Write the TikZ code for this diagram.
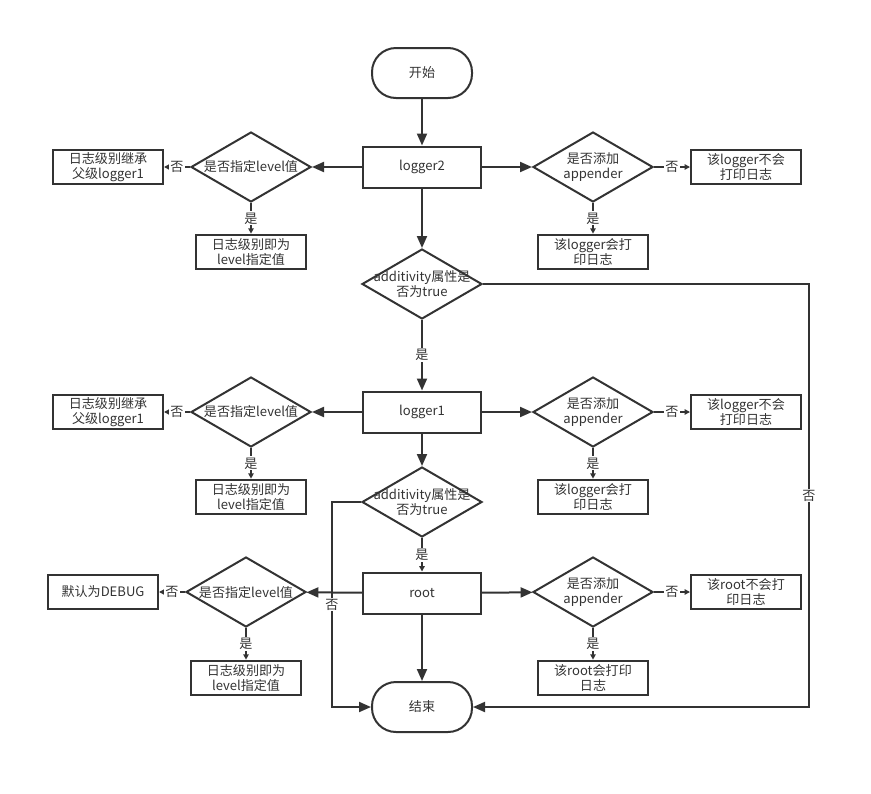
\documentclass[tikz,border=0pt]{standalone}
\usepackage{fontspec}
\setmainfont{Noto Sans CJK SC}
\usetikzlibrary{shapes.geometric,arrows.meta}
\definecolor{ln}{HTML}{333333}

\begin{document}
\begin{tikzpicture}[x=0.75pt,y=-0.75pt,line width=1.5pt,color=ln,
    every node/.style={font=\fontsize{9.8}{11.5}\selectfont},
    box/.style={draw,rectangle,minimum width=88.5pt,minimum height=30.75pt,inner sep=1pt},
    res/.style={draw,rectangle,minimum width=82.5pt,minimum height=26pt,align=center,inner sep=1pt},
    term/.style={draw,rounded corners=18pt,minimum width=75pt,minimum height=37.5pt},
    dia/.style={draw,diamond,minimum width=90pt,minimum height=52.5pt,inner sep=0pt,
        label={[align=center,inner sep=0pt]center:{#1}}},
    arr/.style={-{Triangle[length=9pt,width=7.5pt]}},
    sarr/.style={-{Triangle[length=4pt,width=4pt]}},
    lab/.style={fill=white,inner sep=1pt}]

\useasboundingbox (0,0) rectangle (871,793);

\node[term] (start) at (422,73) {开始};

% logger2
\node[box] (lg2) at (422,167) {logger2};
\node[dia=是否指定level值] (lv2) at (251,167) {};
\node[res] (inh2) at (108,167) {日志级别继承\\父级logger1};
\node[res] (set2) at (251,252) {日志级别即为\\level指定值};
\node[dia={是否添加\\appender}] (ap2) at (593,167) {};
\node[res] (np2) at (746,167) {该logger不会\\打印日志};
\node[res] (pr2) at (593,252) {该logger会打\\印日志};
\node[dia={additivity属性是\\否为true}] (ad2) at (422,284) {};

% logger1
\node[box] (lg1) at (422,412) {logger1};
\node[dia=是否指定level值] (lv1) at (251,412) {};
\node[res] (inh1) at (108,412) {日志级别继承\\父级logger1};
\node[res] (set1) at (251,497) {日志级别即为\\level指定值};
\node[dia={是否添加\\appender}] (ap1) at (593,412) {};
\node[res] (np1) at (746,412) {该logger不会\\打印日志};
\node[res] (pr1) at (593,497) {该logger会打\\印日志};
\node[dia={additivity属性是\\否为true}] (ad1) at (422,502) {};

% root
\node[box] (rt) at (422,593) {root};
\node[dia=是否指定level值] (lv0) at (246,592) {};
\node[res] (dbg) at (103,592) {默认为DEBUG};
\node[res] (set0) at (246,678) {日志级别即为\\level指定值};
\node[dia={是否添加\\appender}] (ap0) at (593,592) {};
\node[res] (np0) at (746,592) {该root不会打\\印日志};
\node[res] (pr0) at (593,678) {该root会打印\\日志};

\node[term] (stop) at (422,707) {结束};

\draw[arr] (start) -- (lg2);
\draw[arr] (lg2) -- (lv2);
\draw[sarr] (lv2) -- node[lab]{否} (inh2);
\draw[sarr] (lv2) -- node[lab]{是} (set2);
\draw[arr] (lg2) -- (ap2);
\draw[sarr] (ap2) -- node[lab]{否} (np2);
\draw[sarr] (ap2) -- node[lab]{是} (pr2);
\draw[arr] (lg2) -- (ad2);
\draw[arr] (ad2) -- node[lab]{是} (lg1);
\draw[arr] (ad2.east) -- (809,284) |- node[lab,pos=0.25]{否} (stop.east);

\draw[arr] (lg1) -- (lv1);
\draw[sarr] (lv1) -- node[lab]{否} (inh1);
\draw[sarr] (lv1) -- node[lab]{是} (set1);
\draw[arr] (lg1) -- (ap1);
\draw[sarr] (ap1) -- node[lab]{否} (np1);
\draw[sarr] (ap1) -- node[lab]{是} (pr1);
\draw[arr] (lg1) -- (ad1);
\draw[sarr] (ad1) -- node[lab]{是} (rt);
\draw[arr] (ad1.west) -- (332,502) |- node[lab,pos=0.25]{否} (stop.west);

\draw[arr] (rt) -- (lv0);
\draw[sarr] (lv0) -- node[lab]{否} (dbg);
\draw[sarr] (lv0) -- node[lab]{是} (set0);
\draw[arr] (rt) -- (ap0);
\draw[sarr] (ap0) -- node[lab]{否} (np0);
\draw[sarr] (ap0) -- node[lab]{是} (pr0);
\draw[arr] (rt) -- (stop);

\end{tikzpicture}
\end{document}
